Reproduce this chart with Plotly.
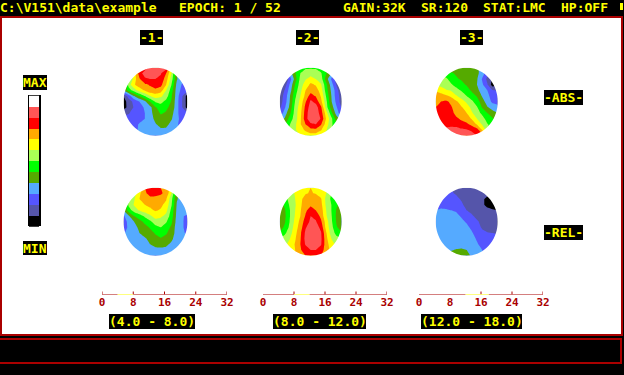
import numpy as np
import plotly.graph_objects as go

LEVEL_COLORS = ["#000000", "#5555AA", "#5555FF", "#55AAFF", "#55AA00", "#00FF00",
                "#AAFF55", "#FFFF00", "#FFAA00", "#FF0000", "#FF5555", "#FFFFFF"]
LEGEND_LEVELS = [11, 10, 9, 8, 7, 6, 5, 4, 3, 2, 1, 0]

ABS_1 = [
 [3,3,4,6,9,10,10,10,10,7,4,3,3],
 [3,4,7,9,10,10,10,9.6,8.5,6.5,3.5,3,2],
 [3,5,7,8.4,9.3,9.5,9.5,9.2,8,6,3.6,2.8,2],
 [3,6,7.4,8,8.3,8.6,9,8.8,7.5,5.5,3.2,2.4,2],
 [3.5,5,6,7,7.6,8.2,8.3,8,6.5,5,3,2.2,1.7],
 [0.5,2,3.5,4.5,5.5,6.5,7,6.7,6,4.6,3,1.6,0],
 [0,1,1.8,2.5,3.2,4.5,5.6,5.8,5.2,4.4,2.9,1.5,0],
 [0,0.9,1.6,2.2,2.6,3.2,4.4,5,4.7,4.2,2.9,1.5,0],
 [1,1.4,2,2.2,2.5,3.1,4.1,4.6,4.4,3.9,2.7,2,1.5],
 [2,2,2,2.2,2.5,3,3.8,4.2,4.1,3.6,2.7,2.2,2],
 [2,2,2.2,2.6,3,3,3.4,3.9,3.8,3.2,2.6,2.2,2],
 [2,2,2.3,2.6,3,3,3.1,3.3,3.3,3,2.7,2.4,2.2],
 [3,3,3,3,3,3,3,3,3,3,3,3,3],
]
ABS_2 = [
 [3,3,4,4.5,5,5.4,5.4,5.4,5,4.6,4,3,3],
 [0.5,1.5,3,4.4,5.5,5.8,6,5.8,5.6,4.6,3.5,2,1],
 [0,0.5,2,4,5.8,6.4,7,6.5,6,4,2.4,1,0],
 [0,1,2.7,4.6,6,7,7.7,7.4,6.6,4.8,3,1.4,0],
 [0.6,1.6,3,5,6.2,7.5,8.1,8,7,5,3.3,2,0.5],
 [1,1.8,3.5,5.3,6.5,7.8,9,8.4,7.4,5.4,3.5,2,1],
 [1,2,3.6,5.6,6.8,8.4,9.7,9.2,7.8,5.8,3.6,2.2,1],
 [1.2,2.4,3.8,5.9,7,8.8,10,10,8.7,6,4,2.6,1.4],
 [1.6,3,4.3,6,7.2,9,10.2,10.2,9,7,4.8,3,1.8],
 [3,3.6,5,6,7.3,9.1,10.2,10.2,9.4,7.4,5.8,4,3],
 [3.5,4.3,5.5,6.3,7.4,8.5,9.3,9.5,8.6,7,5.8,4.5,3.5],
 [4,5,5.7,6.4,7,7.7,8.2,8.2,7.6,6.6,5.5,4.5,4],
 [5,5,5.6,6,6.5,6.7,7,7,6.6,6,5.5,5,5],
]
ABS_3 = [
 [4,4,4,4.2,3.8,3.5,4.2,4.2,3.8,3,2.5,2,1],
 [5,5,5,4.6,4.4,4.3,4.2,4.2,3.7,3.1,1.8,1.5,1],
 [6.2,6,5.7,5.1,4.6,4.4,4.2,4.1,3.6,2.4,1.2,0.4,0.4],
 [6.5,6.2,6,5.6,5.2,4.8,4.4,4.2,3.5,2.7,1.6,0,0.3],
 [7.4,7,6.6,6.4,5.8,5.4,5,4.3,3.8,3,2.5,1.6,1.4],
 [8.1,8,7.7,7.3,6.6,6,5.5,5,4.4,3.4,2.8,2,1.7],
 [8.2,8.5,8.7,8.3,7.7,7,6.3,5.7,5,4,3,2.3,1.9],
 [8.5,8.6,9.2,8.6,8,7.6,7,6.2,5.6,4.4,3.6,3,3],
 [9.1,9.2,9.3,8.9,8.1,8,7.5,6.6,6,5.2,4.5,4,3.5],
 [9.3,9.3,9.3,9,8.7,8.3,8,7.4,6.5,6,5,4.6,4],
 [9.5,9.4,9.4,9.3,9.1,8.9,8.7,8.2,7.4,6.4,5.6,5,5],
 [9.6,9.6,9.6,9.8,10,9.7,9.6,9.3,9,7.5,6,5,5],
 [10,10,10,10.2,10.3,10.2,10.2,10,9.5,9,6,5,5],
]
REL_1 = [
 [3,4,5,6,8.5,9.2,9.3,8.5,8.2,7,4,3,3],
 [3,4,6,7.3,8.3,8.9,8.7,8.6,8.3,6.5,3.8,3,3],
 [3,5,6.4,7.5,8,8.2,8.3,8.2,7.6,5.8,3.6,3,3],
 [3.3,5.8,6.6,7.2,7.5,7.7,7.9,7.7,7.2,5.6,3.4,3,3],
 [3.5,5,6,6.6,7,7.3,7.6,7.4,6.8,5.2,3.3,3,3],
 [2.3,3.4,4.5,5,5.7,6.3,7,6.7,6.2,5,3.2,2.6,2.3],
 [2,2.8,3.5,4.2,4.7,5.3,6,6,5.6,4.7,3.1,2.6,2.2],
 [2,2.7,3.2,3.7,4.2,4.6,5.2,5.5,5,4.3,3,2.6,2.2],
 [2.3,3,3.1,3.5,3.8,4.2,4.6,5,4.6,4.1,3,2.7,2.3],
 [3,3,3,3.2,3.4,3.7,4.2,4.4,4.2,3.7,3,3,3],
 [3,3,3,3,3.2,3.5,3.8,3.9,3.7,3.3,3,3,3],
 [3,3,3,3,3,3,3.2,3.2,3.2,3,3,3,3],
 [3,3,3,3,3,3,3,3,3,3,3,3,3],
]
REL_2 = [
 [6,6,6.5,7,7.2,7.4,7.5,7.4,7.2,6.8,6,6,6],
 [5,5.2,6,6.6,7.1,7.4,7.6,7.4,7.1,6.5,5.5,5,5],
 [4.5,5,6,6.5,7.2,8,8.2,8.2,7.6,6.2,5.3,5,4.5],
 [4,4.7,5.7,6.4,7.3,8.1,8.3,8.3,7.8,6.3,5.5,4.7,4],
 [3.8,4.4,5.5,6.5,7.4,8.3,9,8.5,8,6.5,5.5,4.4,3.6],
 [3.8,4.3,5.5,6.6,7.5,8.6,9.5,9.2,8.2,6.6,5.6,4.3,3.8],
 [3.8,4.4,5.6,6.8,7.8,9,9.7,9.6,8.7,7,5.7,4.4,3.8],
 [4,4.7,5.8,7,8,9.4,10,10,9.2,7.1,5.9,4.6,4],
 [4.6,5.3,6.1,7.2,8.3,9.7,10.2,10.3,9.6,7.6,6,5.2,4.6],
 [5.5,6,6.5,7.4,8.4,9.8,10.3,10.3,9.7,7.8,6.5,5.8,5.5],
 [6,6.3,6.8,7.6,8.5,9.6,10.2,10.2,9.6,7.9,7,6.2,6],
 [6.5,6.5,7,7.5,8.4,9,9.5,9.5,9,8,7.2,6.6,6.5],
 [7,7,7.2,7.5,8,8.5,9.2,9.2,8.5,8,7.5,7,7],
]
REL_3 = [
 [1.5,1.5,1.5,1.5,1.2,1,1,1,1,1,1,1,1],
 [2,2,1.9,1.6,1.4,1.1,1,1,1,0.9,0.8,0.8,0.8],
 [2.2,2.1,2,1.9,1.7,1.4,1.1,1,1,0.7,0.2,0.4,0.8],
 [2.4,2.3,2.2,2.1,2,1.65,1.2,1,1,0.7,0.2,0.1,0.4],
 [2.5,2.6,2.6,2.5,2.4,1.9,1.5,1.3,1,0.9,0.8,0.6,0.5],
 [3,3,2.9,2.8,2.7,2.4,1.9,1.6,1.3,1.1,1,1,1],
 [3,3,3,3,2.9,2.7,2.4,1.9,1.6,1.3,1.1,1,1],
 [3,3,3,3,3,2.9,2.7,2.3,1.8,1.4,1.2,1.1,1],
 [3,3,3,3,3,3,2.8,2.6,2.1,1.7,1.55,1.5,1.4],
 [3,3,3,3,3,3,3,2.8,2.4,2,1.9,1.8,1.8],
 [3,3,3,3,3,3,3,2.9,2.6,2.2,2,2,2],
 [3.3,3.3,3.3,3.4,3.6,3.7,3.5,3,2.9,2.5,2,2,2],
 [3.5,3.5,3.5,4,4.5,4.5,4.2,3.2,3,3,2,2,2],
]

SCALE_TICKS = [0, 8, 16, 24, 32]
VISIBLE_TICKS = [[0, 8, 16, 24, 32], [8, 16, 24, 32], [16, 24, 32]]
BANDS = [(4.0, 8.0), (8.0, 12.0), (12.0, 18.0)]
BAND_LABELS = ["(4.0 - 8.0)", "(8.0 - 12.0)", "(12.0 - 18.0)"]
HEADER = [("C:\\V151\\data\\example", 0), ("EPOCH: 1 / 52", 179), ("GAIN:32K", 343),
          ("SR:120", 421), ("STAT:LMC", 483), ("HP:OFF", 561)]

YEL, RED, BLK = "#FFFF00", "#AA0000", "#000000"
FONT = "DejaVu Sans Mono"
n = len(LEVEL_COLORS)
cscale = []
for i, c in enumerate(LEVEL_COLORS):
    cscale += [[i / n, c], [(i + 1) / n, c]]

fig = go.Figure()
shapes = []
def rect(x0, y0, x1, y1, color, layer="below"):
    shapes.append(dict(type="rect", x0=x0, y0=y0, x1=x1, y1=y1, fillcolor=color,
                       line_width=0, layer=layer, xref="x", yref="y"))

# frame
rect(0, 0, 624, 16, BLK)
rect(0, 16, 624, 18, RED)
rect(0, 18, 2, 336, RED)
rect(621, 18, 623, 336, RED)
rect(623, 16, 624, 375, BLK)
rect(0, 334, 623, 336, RED)
rect(0, 336, 624, 375, BLK)
rect(0, 338, 622, 364, RED)
rect(0, 340, 620, 362, BLK)
rect(620, 3, 623, 10, YEL)

# label boxes
boxes = [(140, 30, 163, 45, "-1-"), (296, 30, 319, 45, "-2-"), (460, 30, 483, 45, "-3-"),
         (23, 75, 47, 90, "MAX"), (23, 241, 47, 255, "MIN"),
         (544, 90, 583, 105, "-ABS-"), (544, 225, 583, 240, "-REL-"),
         (109, 314, 195, 329, BAND_LABELS[0]), (273, 314, 366, 329, BAND_LABELS[1]),
         (421, 314, 522, 329, BAND_LABELS[2])]
ann = []
for x0, y0, x1, y1, t in boxes:
    rect(x0, y0, x1, y1, BLK)
    ann.append(dict(x=(x0 + x1) / 2, y=(y0 + y1) / 2, text=t, showarrow=False, xanchor="center",
                    yanchor="middle", font=dict(family=FONT, size=13, color=YEL, weight="bold")))
for t, x in HEADER:
    ann.append(dict(x=x, y=7.5, text=t, showarrow=False, xanchor="left", yanchor="middle", xshift=-2,
                    font=dict(family=FONT, size=13, color=YEL, weight="bold")))

# maps
maps = [(ABS_1, 123.5, 187.5, 67.7, 135.7), (ABS_2, 279.7, 341.7, 67.7, 135.7), (ABS_3, 435.7, 497.7, 67.7, 135.7),
        (REL_1, 123.5, 187.5, 187.7, 255.7), (REL_2, 279.7, 341.7, 187.7, 255.7), (REL_3, 435.7, 497.7, 187.7, 255.7)]
for z, l, r, t, b in maps:
    fig.add_trace(go.Contour(z=z, x=np.linspace(l, r, 13), y=np.linspace(t, b, 13), zmin=-0.5, zmax=11.5,
                             colorscale=cscale, showscale=False, line_width=0, hoverinfo="skip",
                             contours=dict(start=0.5, end=10.5, size=1, coloring="fill"),
                             line_smoothing=0))
    cx, cy, rx, ry = (l + r) / 2, (t + b) / 2, (r - l) / 2, (b - t) / 2
    a = np.linspace(0, 2 * np.pi, 73)[:-1]
    pts = " L".join(f"{cx + rx * np.cos(v):.2f},{cy + ry * np.sin(v):.2f}" for v in a)
    path = f"M{l-1},{t-1} H{r+1} V{b+1} H{l-1} Z M{pts} Z"
    shapes.append(dict(type="path", path=path, fillcolor="#FFFFFF", fillrule="evenodd", line_width=0,
                       layer="above", xref="x", yref="y"))

# legend bar
rect(28, 95, 41, 226, BLK)
fig.add_trace(go.Heatmap(z=[[v] for v in LEGEND_LEVELS], x0=34, dx=10, y0=101.2, dy=10.9,
                         zmin=-0.5, zmax=11.5, colorscale=cscale, showscale=False, hoverinfo="skip"))

# frequency scales
layout_axes = {}
scale_x = [(102, 227), (263, 387), (419, 543)]
for i, ((x0, x1), ticks, band) in enumerate(zip(scale_x, VISIBLE_TICKS, BANDS)):
    k = i + 2
    xs, ys = [SCALE_TICKS[0], band[0], None, band[1], SCALE_TICKS[-1], None], [0, 0, None, 0, 0, None]
    for v in ticks:
        xs += [v, v, None]
        ys += [0, 0.6, None]
    fig.add_trace(go.Scatter(x=xs, y=ys, mode="lines", line=dict(color=RED, width=1), xaxis=f"x{k}", yaxis=f"y{k}",
                             cliponaxis=False, hoverinfo="skip"))
    fig.add_trace(go.Scatter(x=list(band), y=[0, 0], mode="lines", line=dict(color=YEL, width=1), xaxis=f"x{k}",
                             yaxis=f"y{k}", cliponaxis=False, hoverinfo="skip"))
    layout_axes[f"xaxis{k}"] = dict(domain=[x0 / 624, x1 / 624], range=[0, 32], anchor=f"y{k}", showgrid=False,
                                    zeroline=False, showline=False, ticks="",
                                    ticklabelstandoff=-1, automargin=False,
                                    tickmode="array", tickvals=SCALE_TICKS, ticktext=[str(v) for v in SCALE_TICKS],
                                    tickfont=dict(family=FONT, size=11, color=RED, weight="bold"), tickangle=0)
    layout_axes[f"yaxis{k}"] = dict(domain=[(375 - 294.5) / 375, (375 - 289.5) / 375], range=[0, 1], anchor=f"x{k}",
                                    visible=False)

fig.update_layout(width=624, height=375, autosize=False,
                  margin=dict(l=0, r=0, t=0, b=0, pad=0, autoexpand=False), paper_bgcolor="#FFFFFF",
                  plot_bgcolor="rgba(0,0,0,0)", showlegend=False, shapes=shapes, annotations=ann,
                  xaxis=dict(domain=[0, 1], range=[0, 624], visible=False, fixedrange=True),
                  yaxis=dict(domain=[0, 1], range=[375, 0], visible=False, fixedrange=True),
                  **layout_axes)
fig.write_html("out.html", config={"displayModeBar": False},
               post_script="document.body.style.margin='0';document.documentElement.style.overflow='hidden';"
                           "var gd=document.getElementById('{plot_id}');gd.style.width='624px';gd.style.height='375px';"
                           "Plotly.relayout(gd,{width:624,height:375});")
